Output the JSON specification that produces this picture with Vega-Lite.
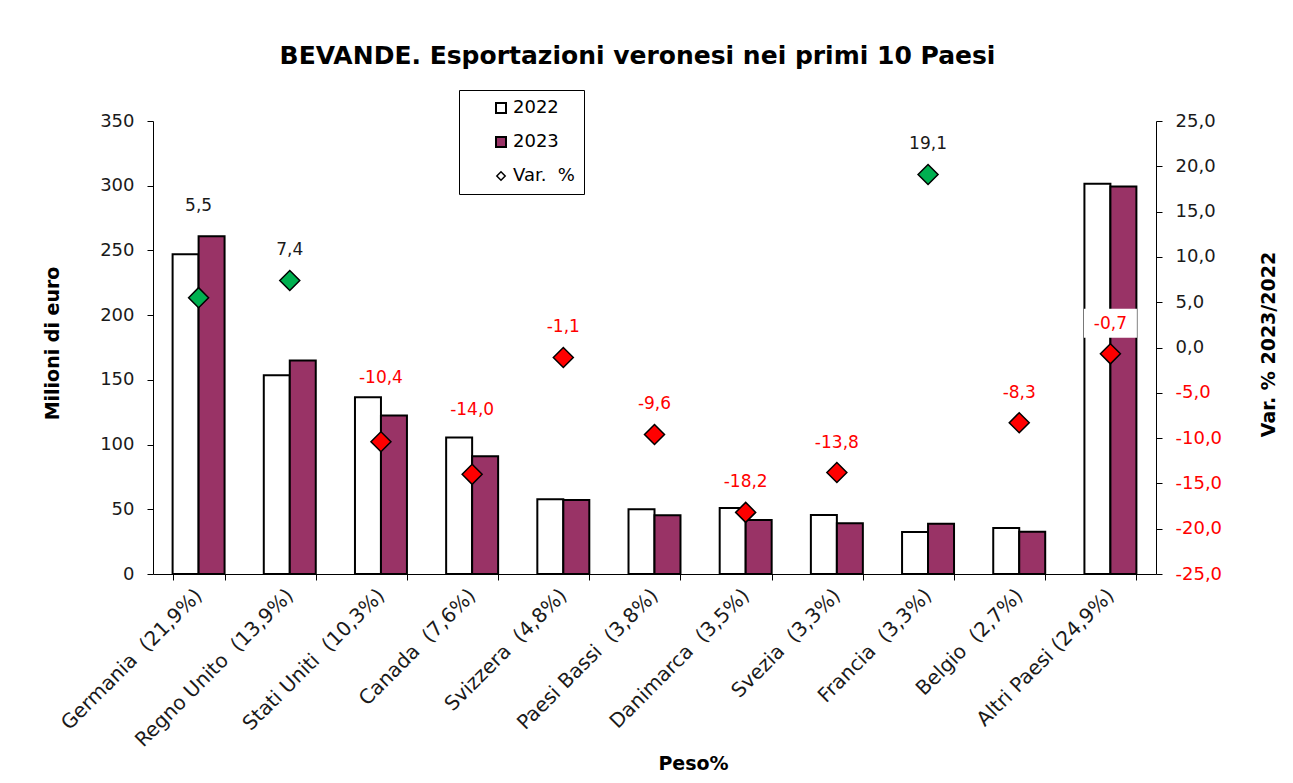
{
  "$schema": "https://vega.github.io/schema/vega-lite/v6.json",
  "width": 1003,
  "height": 453,
  "autosize": {"type": "none"},
  "padding": {"left": 153, "top": 121, "right": 137, "bottom": 209},
  "background": "white",
  "title": {
    "text": "BEVANDE. Esportazioni veronesi nei primi 10 Paesi",
    "font": "DejaVu Sans",
    "fontSize": 25,
    "fontWeight": "bold",
    "color": "#000000",
    "anchor": "middle",
    "dx": -17,
    "offset": 21
  },
  "datasets": {
    "bars": [
      {"paese": "Germania \u00a0(21,9%)", "anno": "2022", "valore": 247},
      {"paese": "Germania \u00a0(21,9%)", "anno": "2023", "valore": 261},
      {"paese": "Regno Unito \u00a0(13,9%)", "anno": "2022", "valore": 153.5},
      {"paese": "Regno Unito \u00a0(13,9%)", "anno": "2023", "valore": 165},
      {"paese": "Stati Uniti \u00a0(10,3%)", "anno": "2022", "valore": 136.5},
      {"paese": "Stati Uniti \u00a0(10,3%)", "anno": "2023", "valore": 122.5},
      {"paese": "Canada \u00a0(7,6%)", "anno": "2022", "valore": 105.5},
      {"paese": "Canada \u00a0(7,6%)", "anno": "2023", "valore": 91},
      {"paese": "Svizzera \u00a0(4,8%)", "anno": "2022", "valore": 57.8},
      {"paese": "Svizzera \u00a0(4,8%)", "anno": "2023", "valore": 57.2},
      {"paese": "Paesi Bassi \u00a0(3,8%)", "anno": "2022", "valore": 50},
      {"paese": "Paesi Bassi \u00a0(3,8%)", "anno": "2023", "valore": 45.3},
      {"paese": "Danimarca \u00a0(3,5%)", "anno": "2022", "valore": 51},
      {"paese": "Danimarca \u00a0(3,5%)", "anno": "2023", "valore": 41.7},
      {"paese": "Svezia \u00a0(3,3%)", "anno": "2022", "valore": 45.5},
      {"paese": "Svezia \u00a0(3,3%)", "anno": "2023", "valore": 39.2},
      {"paese": "Francia \u00a0(3,3%)", "anno": "2022", "valore": 32.5},
      {"paese": "Francia \u00a0(3,3%)", "anno": "2023", "valore": 38.8},
      {"paese": "Belgio \u00a0(2,7%)", "anno": "2022", "valore": 35.5},
      {"paese": "Belgio \u00a0(2,7%)", "anno": "2023", "valore": 32.6},
      {"paese": "Altri Paesi (24,9%)", "anno": "2022", "valore": 301.5},
      {"paese": "Altri Paesi (24,9%)", "anno": "2023", "valore": 299.4}
    ],
    "var": [
      {"paese": "Germania \u00a0(21,9%)", "var": 5.5},
      {"paese": "Regno Unito \u00a0(13,9%)", "var": 7.4},
      {"paese": "Stati Uniti \u00a0(10,3%)", "var": -10.4},
      {"paese": "Canada \u00a0(7,6%)", "var": -14.0},
      {"paese": "Svizzera \u00a0(4,8%)", "var": -1.1},
      {"paese": "Paesi Bassi \u00a0(3,8%)", "var": -9.6},
      {"paese": "Danimarca \u00a0(3,5%)", "var": -18.2},
      {"paese": "Svezia \u00a0(3,3%)", "var": -13.8},
      {"paese": "Francia \u00a0(3,3%)", "var": 19.1},
      {"paese": "Belgio \u00a0(2,7%)", "var": -8.3},
      {"paese": "Altri Paesi (24,9%)", "var": -0.7}
    ]
  },
  "encoding": {
    "x": {
      "field": "paese",
      "type": "nominal",
      "sort": null,
      "scale": {"paddingInner": 0.43, "paddingOuter": 0.215},
      "axis": {
        "title": "Peso%",
        "labelAngle": -45,
        "labelAlign": "right",
        "labelBaseline": "middle",
        "labelPadding": 12,
        "labelFontSize": 20,
        "tickBand": "extent",
        "titleX": 540,
        "titleY": 189,
        "titleAlign": "center",
        "titleBaseline": "middle",
        "labelLimit": 400
      }
    }
  },
  "layer": [
    {
      "data": {"name": "bars"},
      "mark": {"type": "bar", "stroke": "#000000", "strokeWidth": 2},
      "encoding": {
        "xOffset": {"field": "anno", "type": "nominal", "scale": {"paddingInner": 0, "paddingOuter": 0}},
        "y": {
          "field": "valore",
          "type": "quantitative",
          "scale": {"domain": [0, 350], "nice": false},
          "axis": {
            "title": "Milioni di euro",
            "values": [0, 50, 100, 150, 200, 250, 300, 350],
            "format": "d",
            "orient": "left",
            "titleX": -101,
            "titleY": 222,
            "titleAngle": 270,
            "titleAlign": "center",
            "titleBaseline": "middle"
          }
        },
        "fill": {
          "field": "anno",
          "type": "nominal",
          "scale": {"domain": ["2022", "2023", "Var. %"], "range": ["#ffffff", "#993366", "#ffffff"]},
          "legend": {
            "title": null,
            "orient": "none",
            "legendX": 306,
            "legendY": -31,
            "strokeColor": "#000000",
            "fillColor": "#ffffff",
            "padding": 9,
            "symbolOffset": 24,
            "rowPadding": 16,
            "labelFont": "DejaVu Sans",
            "labelFontSize": 18,
            "labelColor": "#000000",
            "symbolStrokeColor": "#000000",
            "symbolStrokeWidth": 2,
            "symbolSize": 100,
            "symbolType": "square",
            "labelOffset": 3,
            "labelLimit": 300,
            "encode": {
              "symbols": {
                "update": {
                  "shape": {"signal": "datum.value === 'Var. %' ? 'diamond' : 'square'"},
                  "size": {"signal": "datum.value === 'Var. %' ? 70 : 100"},
                  "strokeWidth": {"signal": "datum.value === 'Var. %' ? 1.5 : 2"}
                }
              },
              "labels": {
                "update": {
                  "text": {"signal": "datum.value === 'Var. %' ? 'Var. \u00a0%' : datum.label"}
                }
              }
            }
          }
        }
      }
    },
    {
      "data": {"name": "var"},
      "layer": [
        {
          "mark": {"type": "point", "shape": "diamond", "size": 400, "filled": true, "stroke": "#000000", "strokeWidth": 1.5, "opacity": 1},
          "encoding": {
            "y": {
              "field": "var",
              "type": "quantitative",
              "scale": {"domain": [-25, 25], "nice": false},
              "axis": {
                "title": "Var. % 2023/2022",
                "orient": "right",
                "values": [-25, -20, -15, -10, -5, 0, 5, 10, 15, 20, 25],
                "format": ".1f",
                "labelColor": {"condition": {"test": "datum.value < 0", "value": "#ff0000"}, "value": "#1a1a1a"},
                "titleX": 112,
                "titleY": 223,
                "titleAngle": 270,
                "titleAlign": "center",
                "titleBaseline": "middle"
              }
            },
            "fill": {"condition": {"test": "datum.var >= 0", "value": "#00b050"}, "value": "#ff0000"}
          }
        },
        {
          "transform": [{"filter": "datum.paese === 'Altri Paesi (24,9%)'"}],
          "mark": {"type": "point", "shape": "M-0.53,-0.9L0.53,-0.9L0.53,-0.32L-0.53,-0.32Z", "size": 10000, "filled": true, "fill": "#ffffff", "strokeWidth": 0, "opacity": 1},
          "encoding": {"y": {"field": "var", "type": "quantitative"}}
        },
        {
          "transform": [{"filter": "datum.paese !== 'Germania \u00a0(21,9%)' && datum.paese !== 'Stati Uniti \u00a0(10,3%)' && datum.paese !== 'Canada \u00a0(7,6%)'"}],
          "mark": {"type": "text", "font": "DejaVu Sans", "fontSize": 17, "dy": -30, "baseline": "middle"},
          "encoding": {
            "y": {"field": "var", "type": "quantitative"},
            "text": {"field": "var", "type": "quantitative", "format": ".1f"},
            "color": {"condition": {"test": "datum.var >= 0", "value": "#1a1a1a"}, "value": "#ff0000"}
          }
        },
        {
          "transform": [{"filter": "datum.paese === 'Germania \u00a0(21,9%)'"}],
          "mark": {"type": "text", "font": "DejaVu Sans", "fontSize": 17, "dy": -92, "baseline": "middle"},
          "encoding": {
            "y": {"field": "var", "type": "quantitative"},
            "text": {"field": "var", "type": "quantitative", "format": ".1f"},
            "color": {"condition": {"test": "datum.var >= 0", "value": "#1a1a1a"}, "value": "#ff0000"}
          }
        },
        {
          "transform": [{"filter": "datum.paese === 'Stati Uniti \u00a0(10,3%)' || datum.paese === 'Canada \u00a0(7,6%)'"}],
          "mark": {"type": "text", "font": "DejaVu Sans", "fontSize": 17, "dy": -64, "baseline": "middle"},
          "encoding": {
            "y": {"field": "var", "type": "quantitative"},
            "text": {"field": "var", "type": "quantitative", "format": ".1f"},
            "color": {"condition": {"test": "datum.var >= 0", "value": "#1a1a1a"}, "value": "#ff0000"}
          }
        }
      ]
    }
  ],
  "resolve": {"scale": {"y": "independent"}},
  "config": {
    "locale": {"number": {"decimal": ",", "thousands": ".", "grouping": [3], "currency": ["€", ""], "minus": "-"}},
    "view": {"stroke": null},
    "axis": {
      "grid": false,
      "labelFont": "DejaVu Sans",
      "labelFontSize": 18,
      "labelColor": "#1a1a1a",
      "labelPadding": 13,
      "titleFont": "DejaVu Sans",
      "titleFontSize": 19,
      "titleFontWeight": "bold",
      "titleColor": "#000000",
      "domainColor": "#000000",
      "tickColor": "#000000",
      "tickSize": 6,
      "domainWidth": 1,
      "tickWidth": 1
    }
  }
}
